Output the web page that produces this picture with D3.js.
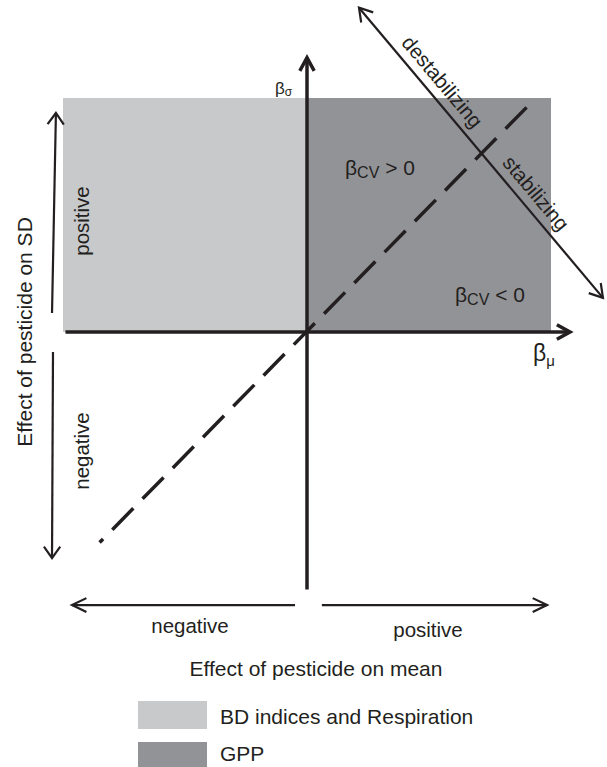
<!DOCTYPE html>
<html>
<head>
<meta charset="utf-8">
<script src="https://cdn.jsdelivr.net/npm/d3@7"></script>
<style>
  html, body { margin: 0; padding: 0; background: #fff; }
  svg { display: block; font-family: "Liberation Sans", Arial, sans-serif; }
  text { fill: #231f20; }
</style>
</head>
<body>
<svg id="chart" width="607" height="767"></svg>
<script>
// regions of the (beta_mu, beta_sigma) plane
const regionNames = ["BD indices and Respiration", "GPP"];
const regionMu = [[-1, 0], [0, 1]];
const regionSigma = [0, 1];
const regionColors = ["#c8c9cb", "#929397"];

// line beta_CV = 0 (dashed), from top end to bottom end
const cvLine = [[0.90, 0.96], [-0.85, -0.90]];

// destabilizing / stabilizing double arrow
const stabArrow = [[0.213, 1.386], [1.213, 0.146]];
const stabLabels = ["destabilizing", "stabilizing"];
const stabLabelAt = [0.291, 0.675];

// main axes extents
const axisMu = [-0.99, 1.078];
const axisSigma = [-1.10, 1.172];

// side arrows (effect on SD) and bottom arrows (effect on mean)
const sdArrows = [[[-1.045, 0.081], [-1.029, 0.936]], [[-1.041, -0.085], [-1.045, -0.966]]];
const sdLabels = ["positive", "negative"];
const meanArrows = [[[-0.049, -1.167], [-0.963, -1.167]], [[0.061, -1.167], [0.984, -1.167]]];
const meanLabels = ["negative", "positive"];

const ink = "#231f20";

const svg = d3.select("#chart");

const x = d3.scaleLinear().domain([-1, 1]).range([63, 551]);
const y = d3.scaleLinear().domain([-1, 1]).range([566, 98]);

const pt = d => [x(d[0]), y(d[1])];
const line = d3.line();

// chevron head at tip, pointing away from "from"
function chevron(tip, from, len, ang, w) {
  const a = Math.atan2(from[1] - tip[1], from[0] - tip[0]);
  const p1 = [tip[0] + len * Math.cos(a + ang), tip[1] + len * Math.sin(a + ang)];
  const p2 = [tip[0] + len * Math.cos(a - ang), tip[1] + len * Math.sin(a - ang)];
  svg.append("path")
    .attr("d", line([p1, tip, p2]))
    .attr("fill", "none")
    .attr("stroke", ink)
    .attr("stroke-width", w)
    .attr("stroke-linejoin", "miter");
}

function arrow(p0, p1, w, len, ang, both) {
  svg.append("path")
    .attr("d", line([p0, p1]))
    .attr("stroke", ink)
    .attr("stroke-width", w)
    .attr("fill", "none");
  chevron(p1, p0, len, ang, w);
  if (both) chevron(p0, p1, len, ang, w);
}

// region rectangles
svg.selectAll("rect.region")
  .data(regionMu)
  .join("rect")
  .attr("class", "region")
  .attr("x", d => x(d[0]))
  .attr("width", d => x(d[1]) - x(d[0]))
  .attr("y", y(regionSigma[1]))
  .attr("height", y(regionSigma[0]) - y(regionSigma[1]))
  .attr("fill", (d, i) => regionColors[i]);

// dashed CV line
svg.append("path")
  .attr("d", line(cvLine.map(pt)))
  .attr("stroke", ink)
  .attr("stroke-width", 3.5)
  .attr("stroke-dasharray", "30,13.2")
  .attr("fill", "none");

// stabilizing arrow + labels
const s0 = pt(stabArrow[0]), s1 = pt(stabArrow[1]);
arrow(s0, s1, 2.2, 15, 0.55, true);
const ang = Math.atan2(s1[1] - s0[1], s1[0] - s0[0]);
const nx = Math.sin(ang), ny = -Math.cos(ang);
stabLabels.forEach((lab, i) => {
  const t = stabLabelAt[i];
  const px = s0[0] + (s1[0] - s0[0]) * t + nx * 9;
  const py = s0[1] + (s1[1] - s0[1]) * t + ny * 9;
  svg.append("text")
    .attr("transform", `translate(${px},${py}) rotate(${ang * 180 / Math.PI})`)
    .attr("text-anchor", "middle")
    .attr("font-size", 20.5)
    .text(lab);
});

// main axes
arrow([x(axisMu[0]), y(0)], [x(axisMu[1]), y(0)], 3.5, 15, 0.5, false);
arrow([x(0), y(axisSigma[0])], [x(0), y(axisSigma[1])], 3.5, 15, 0.5, false);

// axis symbols
const bs = svg.append("text").attr("x", 275).attr("y", 94).attr("font-size", 17);
bs.append("tspan").text("β");
bs.append("tspan").attr("font-size", 12).attr("dy", 2).text("σ");

const bm = svg.append("text").attr("x", 533).attr("y", 361).attr("font-size", 23);
bm.append("tspan").text("β");
bm.append("tspan").attr("font-size", 15).attr("dy", 5).text("μ");

// CV labels
function cvLabel(px, py, rel) {
  const t = svg.append("text").attr("x", px).attr("y", py).attr("font-size", 21);
  t.append("tspan").text("β");
  t.append("tspan").attr("font-size", 16).attr("dy", 3).text("CV");
  t.append("tspan").attr("dy", -3).text(" " + rel + " 0");
}
cvLabel(345, 175, ">");
cvLabel(455, 302, "<");

// side arrows for SD
sdArrows.forEach((a, i) => {
  arrow(pt(a[0]), pt(a[1]), 2.2, 14, 0.62, false);
});
[221, 451].forEach((cy, i) => {
  svg.append("text")
    .attr("transform", `translate(89,${cy}) rotate(-90)`)
    .attr("text-anchor", "middle")
    .attr("font-size", 20.5)
    .text(sdLabels[i]);
});
svg.append("text")
  .attr("transform", "translate(32,332) rotate(-90)")
  .attr("text-anchor", "middle")
  .attr("font-size", 21)
  .text("Effect of pesticide on SD");

// bottom arrows for mean
meanArrows.forEach(a => {
  arrow(pt(a[0]), pt(a[1]), 2.2, 16, 0.45, false);
});
[[190, 633], [428, 637]].forEach((p, i) => {
  svg.append("text")
    .attr("x", p[0]).attr("y", p[1])
    .attr("text-anchor", "middle")
    .attr("font-size", 20.5)
    .text(meanLabels[i]);
});
svg.append("text")
  .attr("x", 316).attr("y", 676)
  .attr("text-anchor", "middle")
  .attr("font-size", 21)
  .text("Effect of pesticide on mean");

// legend
const leg = svg.selectAll("g.leg")
  .data(regionNames)
  .join("g")
  .attr("class", "leg")
  .attr("transform", (d, i) => `translate(138,${701 + i * 41})`);
leg.append("rect")
  .attr("width", 69).attr("height", 28)
  .attr("fill", (d, i) => regionColors[i]);
leg.append("text")
  .attr("x", 82).attr("y", (d, i) => i ? 19 : 23)
  .attr("font-size", 21)
  .text(d => d);
</script>
</body>
</html>
